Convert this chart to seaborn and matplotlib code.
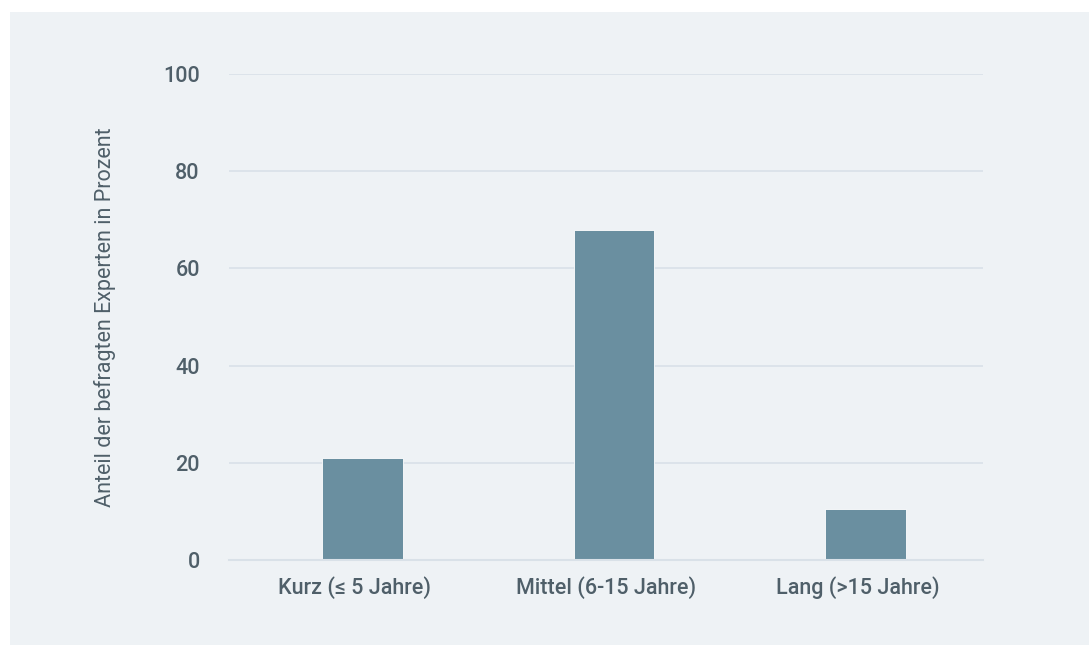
import matplotlib
matplotlib.use("Agg")
import matplotlib.pyplot as plt
import matplotlib.patches as mpatches
from matplotlib.ticker import FixedLocator
import pandas as pd
import seaborn as sns

# data
categories = ["Kurz (≤ 5 Jahre)", "Mittel (6-15 Jahre)", "Lang (>15 Jahre)"]
anteil = [21, 68, 10.5]
y_ticks = [0, 20, 40, 60, 80, 100]

bar_color = "#6a8fa0"
panel_color = "#eef2f5"
grid_color = "#d9e1e8"
text_color = "#4f5f69"

df = pd.DataFrame({"Kategorie": categories, "Anteil": anteil})

sns.set_theme(style="white")
plt.rcParams["font.family"] = ["Roboto", "DejaVu Sans"]
plt.rcParams["font.weight"] = 500

fig = plt.figure(figsize=(10.89, 6.45), dpi=100, facecolor="white")
# light background panel
fig.patches.append(mpatches.Rectangle((10 / 1089, 0), 1, 633 / 645,
                                      transform=fig.transFigure,
                                      facecolor=panel_color, edgecolor="none",
                                      zorder=-10))

ax = fig.add_axes([229 / 1089, (645 - 560) / 645, 754 / 1089, 486 / 645])
ax.set_facecolor("none")

sns.barplot(data=df, x="Kategorie", y="Anteil", color=bar_color, width=0.32,
            saturation=1, edgecolor="white", linewidth=0.6, ax=ax, zorder=3)

# bars sit a little right of the category centre in the reference
for p in ax.patches:
    p.set_x(p.get_x() + 0.032)

ax.set_xlim(-0.5, 2.5)
ax.set_ylim(0, 100)
ax.set_yticks(y_ticks)
ax.yaxis.grid(True, color=grid_color, linewidth=1.2, zorder=0)
ax.set_axisbelow(True)

for s in ["top", "right", "left"]:
    ax.spines[s].set_visible(False)
ax.spines["bottom"].set_color(grid_color)
ax.spines["bottom"].set_linewidth(1.5)
ax.spines["bottom"].set_zorder(4)

ax.xaxis.set_minor_locator(FixedLocator([-0.5, 0.5, 1.5, 2.5]))
ax.tick_params(axis="x", which="minor", length=7, width=1.5, color=grid_color)
ax.tick_params(axis="x", which="major", length=0, pad=12,
               labelsize=15.5, labelcolor=text_color)
ax.tick_params(axis="y", length=0, pad=21, labelsize=15.5, labelcolor=text_color)

ax.set_xlabel("")
ax.set_ylabel("Anteil der befragten Experten in Prozent", fontsize=15.5,
              color=text_color, labelpad=34)

fig.savefig("out.png", dpi=100, facecolor="white")
